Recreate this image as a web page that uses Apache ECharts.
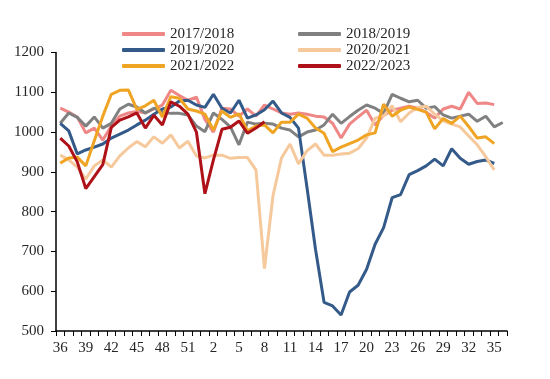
<!DOCTYPE html>
<html>
<head>
<meta charset="utf-8">
<script src="https://cdn.jsdelivr.net/npm/echarts@6/dist/echarts.min.js"></script>
<style>html,body{margin:0;padding:0;background:#fff}#c{width:550px;height:379px}</style>
</head>
<body>
<div id="c"></div>
<script>
var weeks = [36,37,38,39,40,41,42,43,44,45,46,47,48,49,50,51,52,1,2,3,4,5,6,7,8,9,10,11,12,13,14,15,16,17,18,19,20,21,22,23,24,25,26,27,28,29,30,31,32,33,34,35,36];
var yTicks = [500,600,700,800,900,1000,1100,1200];
var names = ['2017/2018','2018/2019','2019/2020','2020/2021','2021/2022','2022/2023'];

var s1718 = [1060,1050,1038,998,1010,980,1015,1040,1048,1052,1048,1058,1068,1105,1092,1080,1088,1032,1000,1060,1058,1040,1058,1040,1068,1058,1048,1045,1048,1045,1040,1038,1022,985,1020,1038,1055,1018,1042,1055,1060,1065,1060,1050,1035,1058,1065,1058,1100,1072,1073,1069,null];
var s1819 = [1022,1048,1037,1015,1038,1010,1022,1058,1070,1063,1048,1060,1050,1047,1047,1043,1015,1001,1048,1032,1013,968,1025,1020,1022,1020,1010,1005,988,1000,1005,1018,1045,1022,1039,1055,1068,1060,1047,1095,1085,1076,1080,1060,1064,1043,1035,1040,1045,1027,1040,1013,1024];
var s1920 = [1022,1003,945,955,962,970,985,995,1005,1018,1030,1045,1058,1063,1078,1080,1068,1062,1095,1060,1048,1080,1035,1043,1056,1078,1048,1037,1010,860,705,572,563,540,598,615,655,718,760,835,843,893,903,915,932,915,958,934,919,926,930,921,null];
var s2021 = [942,930,912,882,915,930,912,940,960,976,963,988,972,993,960,977,940,935,942,942,934,936,936,905,657,840,935,970,920,953,970,942,942,945,947,958,985,1035,1040,1066,1026,1048,1062,1065,1045,1028,1020,1013,990,968,938,905,null];
var s2122 = [922,935,937,915,978,1040,1095,1105,1106,1057,1066,1080,1038,1089,1085,1058,1053,1045,1005,1053,1037,1046,1003,1015,1018,998,1025,1025,1045,1035,1010,997,951,962,971,980,993,998,1070,1040,1055,1063,1057,1050,1008,1034,1022,1040,1014,985,988,971,null];
var s2223 = [985,965,925,858,888,918,1012,1030,1038,1048,1010,1042,1018,1076,1065,1045,1000,845,930,1007,1012,1028,997,1010,1026,null,null,null,null,null,null,null,null,null,null,null,null,null,null,null,null,null,null,null,null,null,null,null,null,null,null,null,null];

var colors = ['#EF8787','#808080','#345A8A','#F6C99C','#F0A424','#AE1118'];
var seriesData = [s1718, s1819, s1920, s2021, s2122, s2223];

var chart = echarts.init(document.getElementById('c'));
var font = 'Liberation Serif, Times New Roman, serif';
var legendBase = {
  orient: 'vertical', top: 21, itemGap: 0, itemWidth: 43, itemHeight: 4,
  icon: 'roundRect',
  textStyle: {fontFamily: font, fontSize: 15, color: '#262626', lineHeight: 16}
};
chart.setOption({
  animation: false,
  color: colors,
  legend: [
    Object.assign({}, legendBase, {left: 117, data: [names[0], names[2], names[4]]}),
    Object.assign({}, legendBase, {left: 293, data: [names[1], names[3], names[5]]})
  ],
  grid: {left: 56, right: 43, top: 52.5, bottom: 48},
  xAxis: {
    type: 'category', data: weeks, boundaryGap: true,
    axisLine: {lineStyle: {color: '#000', width: 1.5}},
    axisTick: {show: true, interval: 0, length: 5, lineStyle: {color: '#000'}},
    axisLabel: {interval: 2, margin: 10, fontFamily: font, fontSize: 15, color: '#262626'},
    splitLine: {show: false}
  },
  yAxis: {
    type: 'value', min: yTicks[0], max: yTicks[yTicks.length-1], interval: 100,
    axisLine: {show: true, lineStyle: {color: '#000', width: 1.5}},
    axisTick: {show: true, length: 5, lineStyle: {color: '#000'}},
    axisLabel: {margin: 12, fontFamily: font, fontSize: 15, color: '#262626',
      formatter: function (v) { return String(v); }},
    splitLine: {show: false}
  },
  series: seriesData.map(function (d, i) {
    return {
      name: names[i], type: 'line', data: d, showSymbol: false, symbol: 'none',
      lineStyle: {width: 3, color: colors[i]}, itemStyle: {color: colors[i]},
      connectNulls: false
    };
  })
});
</script>
</body>
</html>
